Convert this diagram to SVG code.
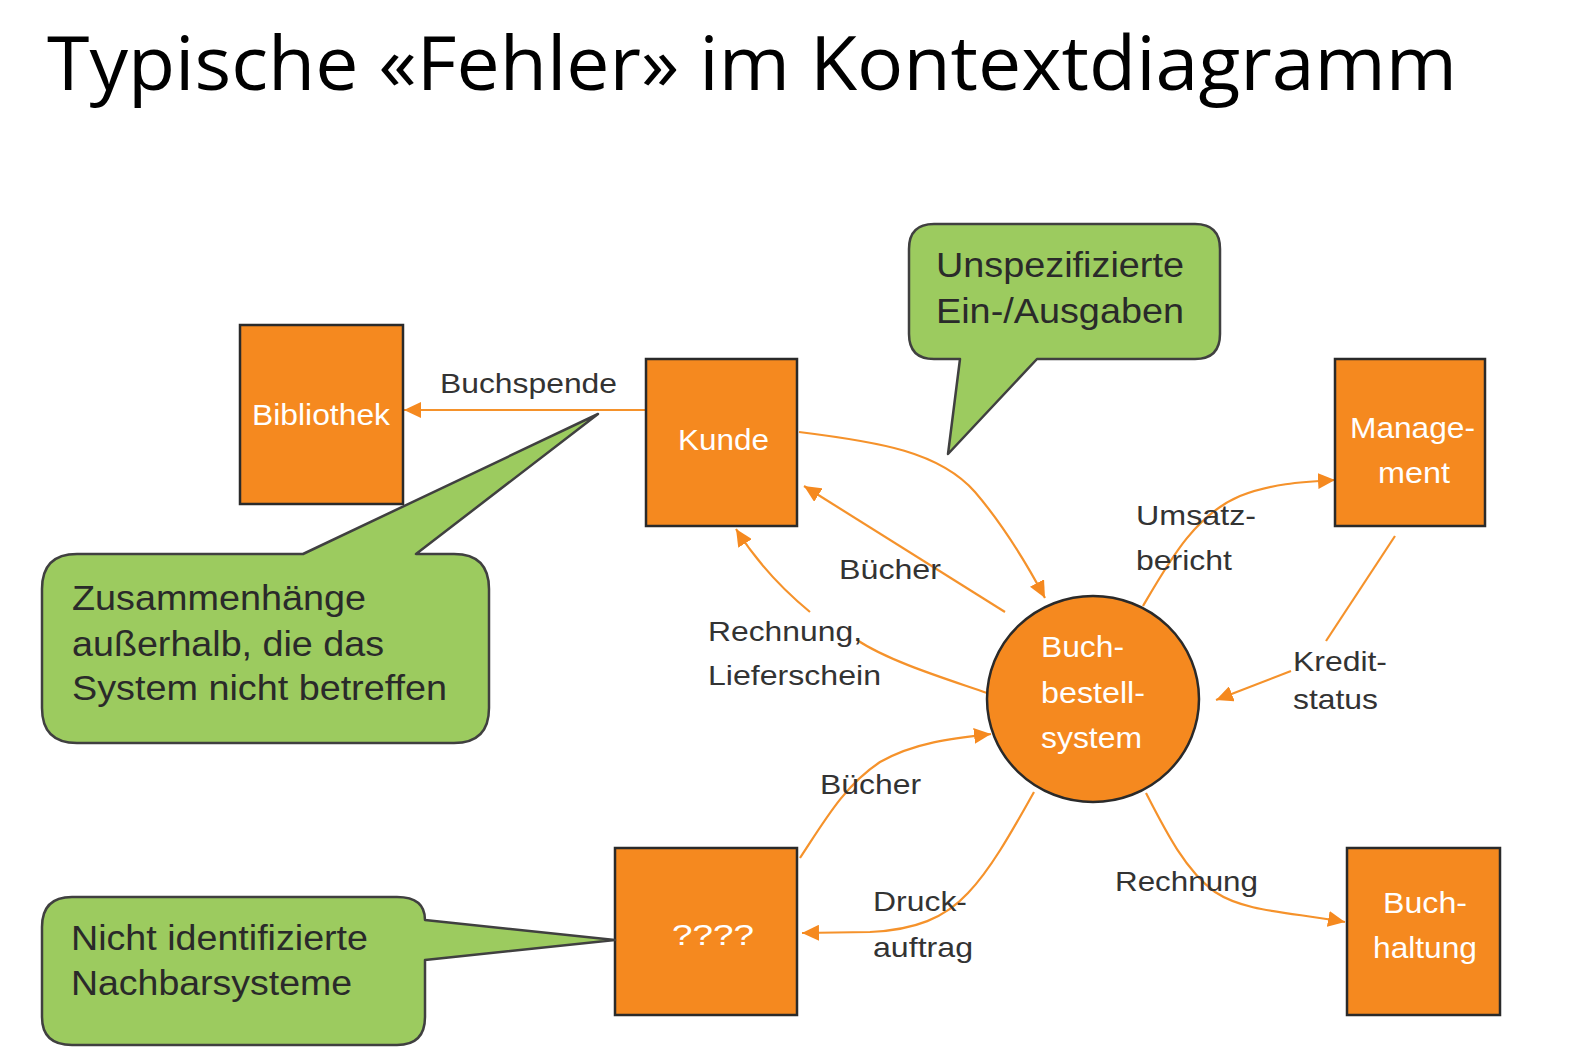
<svg xmlns="http://www.w3.org/2000/svg" width="1569" height="1058" viewBox="0 0 1569 1058">
<style>
.box{fill:#F5891F;stroke:#2a2a2a;stroke-width:2.5}
.nt{font-family:"Liberation Sans",Arial,sans-serif;font-size:30px;fill:#ffffff}
.lb{font-family:"Liberation Sans",Arial,sans-serif;font-size:28px;fill:#333333}
.co{fill:#9CCB5F;stroke:#404040;stroke-width:2.5;stroke-linejoin:round}
.ct{font-family:"Liberation Sans",Arial,sans-serif;font-size:35px;fill:#2a2a2a}
.ln{fill:none;stroke:#F5922B;stroke-width:2.2}
.ttl{font-family:"Open Sans","Noto Sans",sans-serif;font-size:75px;fill:#000000}
</style>
<defs>
<marker id="ah" markerUnits="userSpaceOnUse" markerWidth="18" markerHeight="16" refX="17" refY="8" orient="auto">
<path d="M0,0 L17,8 L0,16 z" fill="#F5891F"/>
</marker>
</defs>
<rect width="1569" height="1058" fill="#ffffff"/>
<text class="ttl" x="47" y="90" textLength="1410" lengthAdjust="spacingAndGlyphs">Typische «Fehler» im Kontextdiagramm</text>

<g id="connectors">
<path class="ln" d="M646,410 L404,410" marker-end="url(#ah)"/>
<path class="ln" d="M799,432 C880,442 940,452 975,492 C1005,527 1030,570 1045,598" marker-end="url(#ah)"/>
<path class="ln" d="M1005,612 L804,486" marker-end="url(#ah)"/>
<path class="ln" d="M987,693 C950,680 890,662 857,640"/>
<path class="ln" d="M810,612 Q765,575 736,529" marker-end="url(#ah)"/>
<path class="ln" d="M1143,606 C1170,560 1195,515 1240,496 C1270,484 1300,482 1335,480" marker-end="url(#ah)"/>
<path class="ln" d="M1395,536 L1326,641"/>
<path class="ln" d="M1291,671 L1216,700" marker-end="url(#ah)"/>
<path class="ln" d="M800,858 C825,820 845,785 880,762 C915,742 955,738 991,734" marker-end="url(#ah)"/>
<path class="ln" d="M1034,792 C1010,835 990,870 968,893 C945,918 915,930 870,932 L802,933" marker-end="url(#ah)"/>
<path class="ln" d="M1146,793 C1165,830 1185,870 1215,892 C1245,912 1290,912 1345,922" marker-end="url(#ah)"/>
</g>

<g id="labels">
<text class="lb" x="440" y="393" textLength="177" lengthAdjust="spacingAndGlyphs">Buchspende</text>
<text class="lb" x="839" y="579" textLength="102" lengthAdjust="spacingAndGlyphs">Bücher</text>
<text class="lb" x="708" y="641" textLength="154" lengthAdjust="spacingAndGlyphs">Rechnung,</text>
<text class="lb" x="708" y="685" textLength="173" lengthAdjust="spacingAndGlyphs">Lieferschein</text>
<text class="lb" x="1136" y="525" textLength="120" lengthAdjust="spacingAndGlyphs">Umsatz-</text>
<text class="lb" x="1136" y="570" textLength="96" lengthAdjust="spacingAndGlyphs">bericht</text>
<text class="lb" x="1293" y="671" textLength="94" lengthAdjust="spacingAndGlyphs">Kredit-</text>
<text class="lb" x="1293" y="709" textLength="85" lengthAdjust="spacingAndGlyphs">status</text>
<text class="lb" x="820" y="794" textLength="101" lengthAdjust="spacingAndGlyphs">Bücher</text>
<text class="lb" x="873" y="911" textLength="94" lengthAdjust="spacingAndGlyphs">Druck-</text>
<text class="lb" x="873" y="957" textLength="100" lengthAdjust="spacingAndGlyphs">auftrag</text>
<text class="lb" x="1115" y="891" textLength="143" lengthAdjust="spacingAndGlyphs">Rechnung</text>
</g>

<g id="bibliothek">
<rect class="box" x="240" y="325" width="163" height="179"/>
<text class="nt" x="252" y="425" textLength="138" lengthAdjust="spacingAndGlyphs">Bibliothek</text>
</g>
<g id="kunde">
<rect class="box" x="646" y="359" width="151" height="167"/>
<text class="nt" x="678" y="450" textLength="91" lengthAdjust="spacingAndGlyphs">Kunde</text>
</g>
<g id="management">
<rect class="box" x="1335" y="359" width="150" height="167"/>
<text class="nt" x="1350" y="438" textLength="125" lengthAdjust="spacingAndGlyphs">Manage-</text>
<text class="nt" x="1378" y="483" textLength="72" lengthAdjust="spacingAndGlyphs">ment</text>
</g>
<g id="unbekannt">
<rect class="box" x="615" y="848" width="182" height="167"/>
<text class="nt" x="672" y="945" textLength="82" lengthAdjust="spacingAndGlyphs">????</text>
</g>
<g id="buchhaltung">
<rect class="box" x="1347" y="848" width="153" height="167"/>
<text class="nt" x="1383" y="913" textLength="84" lengthAdjust="spacingAndGlyphs">Buch-</text>
<text class="nt" x="1373" y="958" textLength="104" lengthAdjust="spacingAndGlyphs">haltung</text>
</g>
<g id="buchbestellsystem">
<ellipse class="box" cx="1093" cy="699" rx="106" ry="103"/>
<text class="nt" x="1041" y="657" textLength="83" lengthAdjust="spacingAndGlyphs">Buch-</text>
<text class="nt" x="1041" y="703" textLength="104" lengthAdjust="spacingAndGlyphs">bestell-</text>
<text class="nt" x="1041" y="748" textLength="101" lengthAdjust="spacingAndGlyphs">system</text>
</g>

<g id="callout-unspezifiziert">
<path class="co" d="M934,224 H1195 Q1220,224 1220,249 V334 Q1220,359 1195,359 H1037 L948,454 L960,359 H934 Q909,359 909,334 V249 Q909,224 934,224 Z"/>
<text class="ct" x="936" y="277" textLength="248" lengthAdjust="spacingAndGlyphs">Unspezifizierte</text>
<text class="ct" x="936" y="323" textLength="248" lengthAdjust="spacingAndGlyphs">Ein-/Ausgaben</text>
</g>
<g id="callout-zusammenhaenge">
<path class="co" d="M77,554 H303 L598,414 L416,554 H454 Q489,554 489,589 V708 Q489,743 454,743 H77 Q42,743 42,708 V589 Q42,554 77,554 Z"/>
<text class="ct" x="72" y="610" textLength="294" lengthAdjust="spacingAndGlyphs">Zusammenhänge</text>
<text class="ct" x="72" y="656" textLength="312" lengthAdjust="spacingAndGlyphs">außerhalb, die das</text>
<text class="ct" x="72" y="700" textLength="375" lengthAdjust="spacingAndGlyphs">System nicht betreffen</text>
</g>
<g id="callout-nachbarsysteme">
<path class="co" d="M72,897 H397 Q425,897 425,920 L615,940 L425,960 V1017 Q425,1045 397,1045 H72 Q42,1045 42,1017 V927 Q42,897 72,897 Z"/>
<text class="ct" x="71" y="950" textLength="297" lengthAdjust="spacingAndGlyphs">Nicht identifizierte</text>
<text class="ct" x="71" y="995" textLength="281" lengthAdjust="spacingAndGlyphs">Nachbarsysteme</text>
</g>
</svg>
